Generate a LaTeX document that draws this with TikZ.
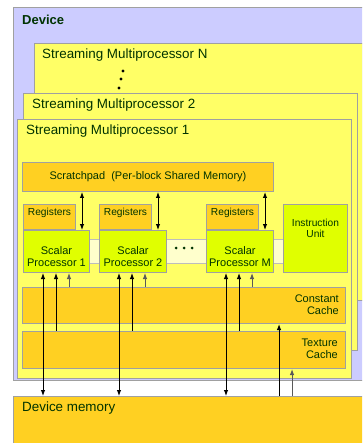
\documentclass[tikz,border=0pt]{standalone}
\usepackage{fontspec}
\setmainfont{Liberation Sans}
\usetikzlibrary{
    arrows.meta,
    positioning,
    calc
}
\definecolor{deviceBg}{RGB}{204,204,255}
\definecolor{smFill}{RGB}{255,255,102}
\definecolor{memFill}{RGB}{255,208,34}
\definecolor{procFill}{RGB}{224,255,0}
\definecolor{bandFill}{RGB}{255,255,204}
\definecolor{boxBorder}{RGB}{160,160,160}
\definecolor{textGreen}{RGB}{0,51,0}
\tikzset{
    >={Latex[length=6pt,width=4.5pt]},
    % Boxes
    box/.style={
        draw=boxBorder,
        line width=1pt,
        inner sep=0pt,
        anchor=north west
    },
    deviceBox/.style={box, fill=deviceBg},
    smBox/.style={box, fill=smFill},
    memBox/.style={box, fill=memFill},
    procBox/.style={box, fill=procFill},
    bandBox/.style={box, fill=bandFill, draw=boxBorder!70},
    % Labels
    bigText/.style={
        text=textGreen,
        inner sep=0pt,
        font=\fontsize{13.4}{15}\selectfont
    },
    boxText/.style={
        text=textGreen,
        inner sep=0pt,
        align=center,
        font=\fontsize{11}{12}\selectfont
    },
    smallText/.style={
        boxText,
        font=\fontsize{10.2}{11}\selectfont
    },
    % Connectors
    link/.style={line width=1pt, black},
    faintLink/.style={line width=1pt, black!65}
}

\begin{document}
\begin{tikzpicture}[x=1pt, y=-1pt]

    \useasboundingbox (0,0) rectangle (362,443);
    \clip (0,0) rectangle (362,443);

    \node[deviceBox, minimum width=372, minimum height=373] (device) at (13,7) {};
    \node[bigText, anchor=west, font=\fontsize{13}{15}\selectfont\bfseries] (deviceName) at ([shift={(9,13)}]device.north west) {Device};

    \node[smBox, minimum width=350, minimum height=257] (smN) at (34,43) {};
    \node[bigText, anchor=west] (smNName) at ([shift={(8,12)}]smN.north west) {Streaming Multiprocessor N};
    \foreach \pos in {(123,71), (121,79), (119,88)}
        \fill[black] \pos circle (1.6);

    \node[smBox, minimum width=334, minimum height=257] (sm2) at (23,93) {};
    \node[bigText, anchor=west] (sm2Name) at ([shift={(9,12)}]sm2.north west) {Streaming Multiprocessor 2};

    \node[smBox, minimum width=334, minimum height=259] (sm1) at (17,119) {};
    \node[bigText, anchor=west] (sm1Name) at ([shift={(9,12)}]sm1.north west) {Streaming Multiprocessor 1};

    \node[memBox, minimum width=251, minimum height=29, boxText] (scratch) at (22,162) {Scratchpad\ \ (Per-block Shared Memory)};

    \node[bandBox, minimum width=260, minimum height=24] (band) at (23,239) {};
    \foreach \x in {176,184,192}
        \fill[textGreen] (\x,248) circle (1.5);

    \foreach \name/\x/\w in {1/23/66, 2/99/67, M/206/67} {
        \node[memBox, minimum width=52, minimum height=25] (reg\name) at (\x,204) {};
        \node[smallText, below=4pt of reg\name.north] (reg\name Name) {Registers};
        \node[procBox, minimum width=\w, minimum height=42] (sp\name) at (\x,230) {};
        \node[boxText] (sp\name Name) at ([shift={(0,5)}]sp\name.center) {Scalar\\Processor \name};
    }

    \node[procBox, minimum width=64, minimum height=68] (iu) at (283,204) {};
    \node[smallText, below=15pt of iu.north] (iuName) {Instruction\\Unit};

    \node[memBox, minimum width=323, minimum height=36] (const) at (22,287) {};
    \node[boxText, align=right, anchor=east] (constName) at ([shift={(-7,-1)}]const.east) {Constant\\Cache};

    \node[memBox, minimum width=323, minimum height=37] (texture) at (22,331) {};
    \node[boxText, align=right, anchor=east] (textureName) at ([shift={(-8,-1)}]texture.east) {Texture\\Cache};

    \node[memBox, minimum width=372, minimum height=60] (devMem) at (13,396) {};
    \node[bigText, anchor=west] (devMemName) at ([shift={(9,12)}]devMem.north west) {Device memory};

    % processor links
    \foreach \name in {1,2,M} {
        \draw[link, <->] ([shift={(59,0)}]sp\name.north west) -- ([shift={(59,0)}]sp\name.north west |- scratch.south);
        \draw[link, <->] ([shift={(20,0)}]sp\name.south west) -- ([shift={(20,0)}]sp\name.south west |- devMem.north);
        \draw[link, ->] ([shift={(33,0)}]sp\name.south west |- texture.north) -- ([shift={(33,0)}]sp\name.south west);
        \draw[faintLink, ->] ([shift={(46,0)}]sp\name.south west |- const.north) -- ([shift={(46,0)}]sp\name.south west);
    }

    % cache fill links
    \draw[link, ->] ([shift={(-67,0)}]const.south east |- devMem.north) -- ([shift={(-67,0)}]const.south east);
    \draw[faintLink, ->] ([shift={(-54,0)}]texture.south east |- devMem.north) -- ([shift={(-54,0)}]texture.south east);

\end{tikzpicture}
\end{document}
